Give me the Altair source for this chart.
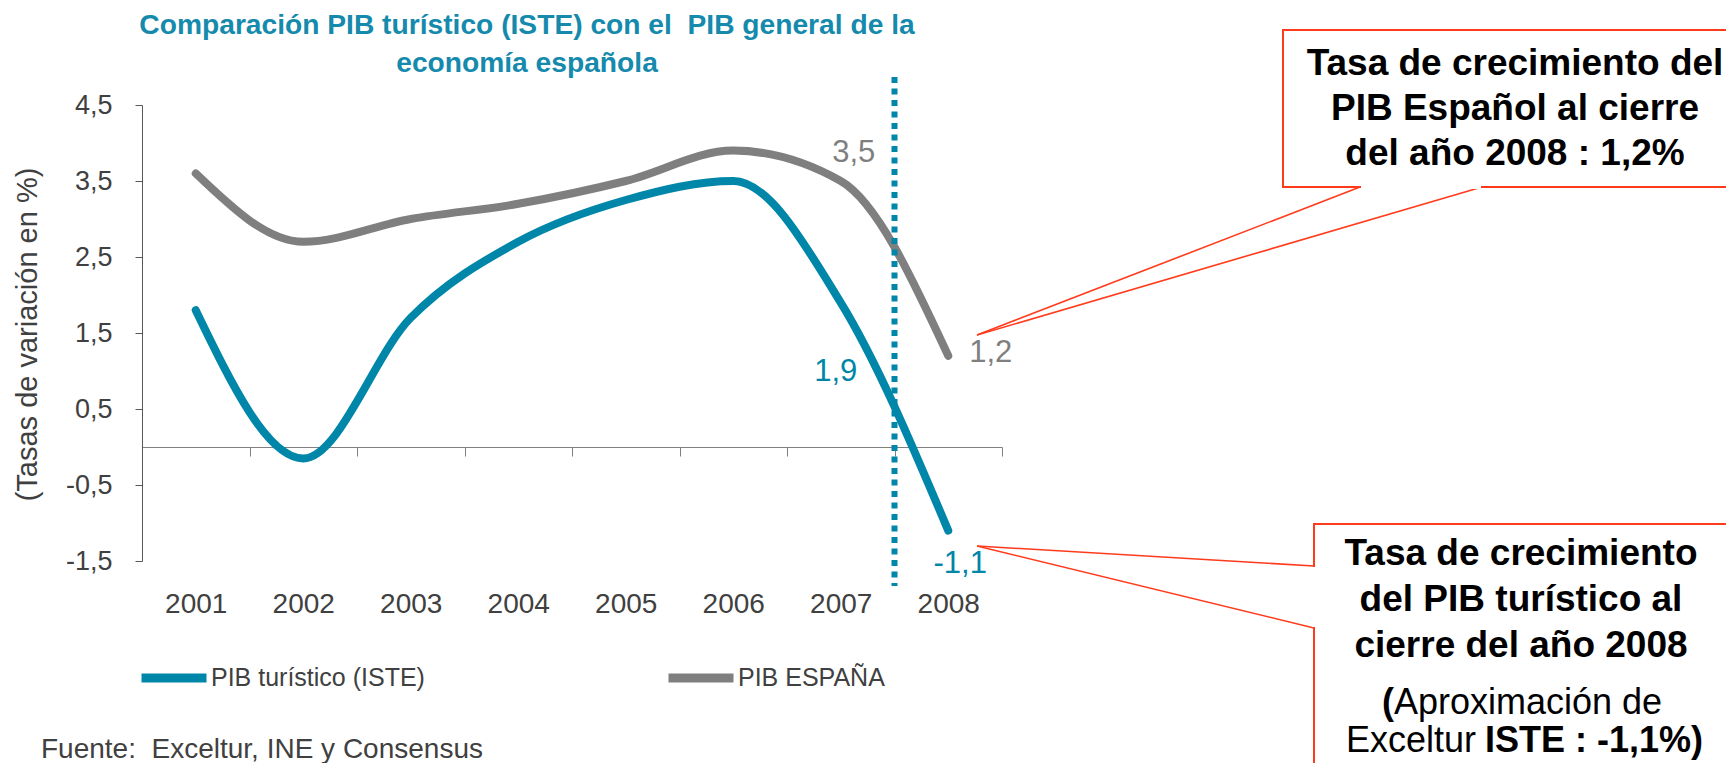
import altair as alt
import pandas as pd

# ---------------- data ----------------
years = [2001, 2002, 2003, 2004, 2005, 2006, 2007, 2008]
pib_turistico = [1.8, -0.15, 1.7, 2.7, 3.25, 3.5, 1.9, -1.1]
pib_espana = [3.6, 2.7, 3.0, 3.2, 3.5, 3.9, 3.5, 1.2]
series_names = ["PIB turístico (ISTE)", "PIB ESPAÑA"]
series_colors = ["#0086A8", "#7F7F7F"]
y_ticks = [-1.5, -0.5, 0.5, 1.5, 2.5, 3.5, 4.5]
x_boundaries = [2000.5, 2001.5, 2002.5, 2003.5, 2004.5, 2005.5, 2006.5, 2007.5, 2008.5]
separator_year = [2007.5]
labelled_years = [2007, 2008]

NB = "\u00a0"
title_lines = ["Comparación PIB turístico (ISTE) con el" + NB + " PIB general de la", "economía española"]
y_title = "(Tasas de variación en %)"
source_text = "Fuente:" + NB + " Exceltur, INE y Consensus"
box1_lines = ["Tasa de crecimiento del", "PIB Español al cierre", "del año 2008 : 1,2%"]
box2_lines = ["Tasa de crecimiento", "del PIB turístico al", "cierre del año 2008"]

FONT = "Liberation Sans, Arial, Helvetica, sans-serif"
TEAL = series_colors[0]
GRAY = series_colors[1]
RED = "#FF3B1C"
TXT = "#404040"

df = pd.DataFrame({
    "year": years * 2,
    "value": pib_turistico + pib_espana,
    "serie": [series_names[0]] * len(years) + [series_names[1]] * len(years),
})
df["label"] = df["value"].map(lambda v: f"{v:.1f}".replace(".", ","))

x_scale = alt.Scale(domain=[min(x_boundaries), max(x_boundaries)], nice=False, zero=False)
y_scale = alt.Scale(domain=[min(y_ticks), max(y_ticks)], nice=False, zero=False)
color_scale = alt.Scale(domain=series_names, range=series_colors)

y_axis = alt.Axis(values=y_ticks,
                  labelExpr="replace(replace(format(datum.value, '.1f'), '.', ','), '\u2212', '-')",
                  title=y_title, titleFont=FONT, titleFontSize=29,
                  titleFontWeight="normal", titleColor=TXT,
                  titleX=-115, titleY=229, titleBaseline="middle", titleAngle=270,
                  grid=False, tickSize=7, tickColor="#595959", domainColor="#595959",
                  labelFontSize=27, labelFont=FONT, labelColor=TXT, labelPadding=23)

lines = alt.Chart(df).mark_line(strokeWidth=8, strokeCap="round", strokeJoin="round",
                               interpolate="monotone").encode(
    x=alt.X("year:Q", scale=x_scale,
            axis=alt.Axis(values=years, format="d", title=None, ticks=False, domain=False,
                          grid=False, labelFontSize=28, labelFont=FONT, labelColor=TXT,
                          labelPadding=29)),
    y=alt.Y("value:Q", scale=y_scale, axis=y_axis),
    color=alt.Color("serie:N", scale=color_scale,
                    legend=alt.Legend(orient="none", legendX=-5, legendY=536,
                                      direction="horizontal", title=None,
                                      symbolType="stroke", symbolStrokeWidth=9,
                                      symbolSize=4225, labelFontSize=25, labelFont=FONT,
                                      labelColor=TXT, labelOffset=0, columnPadding=225,
                                      labelLimit=500, padding=0)),
)


def point_label(serie, year, color, dx, dy, align):
    d = df[(df["serie"] == serie) & (df["year"] == year)]
    return alt.Chart(d).mark_text(font=FONT, fontSize=31, color=color, dx=dx, dy=dy,
                                  align=align, baseline="middle").encode(
        x=alt.X("year:Q", scale=x_scale, axis=None),
        y=alt.Y("value:Q", scale=y_scale, axis=y_axis),
        text="label:N",
    )


lab_es_07 = point_label(series_names[1], labelled_years[0], GRAY, 13, -28, "center")
lab_es_08 = point_label(series_names[1], labelled_years[1], GRAY, 21, -3, "left")
lab_tu_07 = point_label(series_names[0], labelled_years[0], TEAL, -5, 69, "center")
lab_tu_08 = point_label(series_names[0], labelled_years[1], TEAL, 12, 33, "center")

separator = alt.Chart(pd.DataFrame({"year": separator_year})).mark_rule(
    color=TEAL, strokeWidth=6, strokeDash=[6, 5.5]).encode(
    x=alt.X("year:Q", scale=x_scale,
            axis=alt.Axis(orient="bottom", values=x_boundaries, labels=False, ticks=True,
                          tickSize=9, tickColor="#808080", domain=True,
                          domainColor="#808080", offset=-114, grid=False, title=None)),
    y=alt.value(-28), y2=alt.value(481),
)

one = pd.DataFrame({"k": [0]})
base = alt.Chart(one)

title = base.mark_text(text=title_lines, font=FONT, fontSize=28.2, fontWeight="bold",
                       color="#158AAD", lineHeight=38, align="center",
                       baseline="middle").encode(x=alt.value(385), y=alt.value(-79))

source = base.mark_text(text=source_text, font=FONT, fontSize=28, color=TXT, align="left",
                        baseline="middle").encode(x=alt.value(-101), y=alt.value(645))

# callout 1
box1 = base.mark_rect(fill="white", stroke=RED, strokeWidth=2).encode(
    x=alt.value(1141), x2=alt.value(1600), y=alt.value(-75), y2=alt.value(82))
gap1 = base.mark_rule(color="white", strokeWidth=4).encode(
    x=alt.value(1219), x2=alt.value(1339), y=alt.value(82), y2=alt.value(82))
ptr1a = base.mark_rule(color=RED, strokeWidth=1.6).encode(
    x=alt.value(835), y=alt.value(230), x2=alt.value(1218), y2=alt.value(82))
ptr1b = base.mark_rule(color=RED, strokeWidth=1.6).encode(
    x=alt.value(835), y=alt.value(230), x2=alt.value(1340), y2=alt.value(82))
txt1 = base.mark_text(text=box1_lines, font=FONT, fontSize=37, fontWeight="bold",
                      color="black", lineHeight=45, align="center",
                      baseline="middle").encode(x=alt.value(1373), y=alt.value(-41))

# callout 2
box2 = base.mark_rect(fill="white", stroke=RED, strokeWidth=2).encode(
    x=alt.value(1172), x2=alt.value(1586), y=alt.value(419), y2=alt.value(700))
gap2 = base.mark_rule(color="white", strokeWidth=4).encode(
    x=alt.value(1172), x2=alt.value(1172), y=alt.value(462), y2=alt.value(522))
ptr2a = base.mark_rule(color=RED, strokeWidth=1.6).encode(
    x=alt.value(835), y=alt.value(441), x2=alt.value(1172), y2=alt.value(461))
ptr2b = base.mark_rule(color=RED, strokeWidth=1.6).encode(
    x=alt.value(835), y=alt.value(441), x2=alt.value(1172), y2=alt.value(523))
txt2 = base.mark_text(text=box2_lines, font=FONT, fontSize=37, fontWeight="bold",
                      color="black", lineHeight=46, align="center",
                      baseline="middle").encode(x=alt.value(1379), y=alt.value(449))
txt2a = base.mark_text(text="(", font=FONT, fontSize=36, fontWeight="bold", color="black",
                       align="right", baseline="middle").encode(x=alt.value(1252), y=alt.value(598))
txt2b = base.mark_text(text="Aproximación de", font=FONT, fontSize=36, color="black",
                       align="left", baseline="middle").encode(x=alt.value(1252), y=alt.value(598))
txt2c = base.mark_text(text="Exceltur", font=FONT, fontSize=36, color="black",
                       align="right", baseline="middle").encode(x=alt.value(1334), y=alt.value(636))
txt2d = base.mark_text(text="ISTE : -1,1%)", font=FONT, fontSize=36, fontWeight="bold",
                       color="black", align="left", baseline="middle").encode(
    x=alt.value(1343), y=alt.value(636))

chart = alt.layer(
    lines, separator, lab_es_07, lab_es_08, lab_tu_07, lab_tu_08,
    title, source,
    ptr1a, ptr1b, box1, gap1, txt1,
    ptr2a, ptr2b, box2, gap2, txt2, txt2a, txt2b, txt2c, txt2d,
).resolve_axis(x="independent").properties(
    width=860, height=456,
    padding={"left": 134, "top": 97, "right": 724, "bottom": 202},
    autosize=alt.AutoSizeParams(type="none"),
    background="white",
).configure_view(stroke=None)

chart.save("out.html", embed_options={"renderer": "svg", "actions": False})
